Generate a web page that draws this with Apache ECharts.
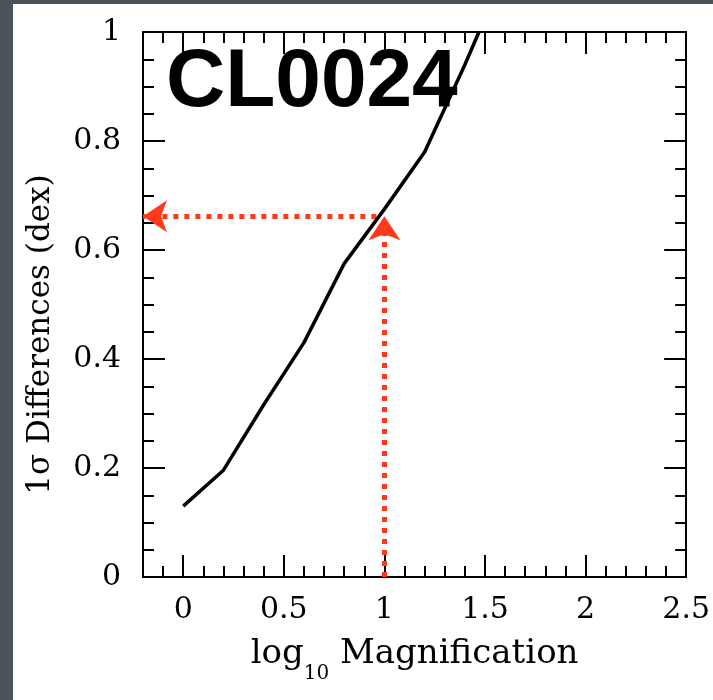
<!DOCTYPE html>
<html>
<head>
<meta charset="utf-8">
<script src="https://cdn.jsdelivr.net/npm/echarts@6/dist/echarts.min.js"></script>
<style>
  html, body { margin: 0; padding: 0; background: #4b5359; }
  #chart { width: 713px; height: 700px; }
</style>
</head>
<body>
<div id="chart"></div>
<script>
// 1-sigma differences against log10 magnification for CL0024
const magnification = [0, 0.2, 0.4, 0.6, 0.8, 1.0, 1.2, 1.4, 1.47];
const sigmaDiff     = [0.13, 0.196, 0.316, 0.43, 0.575, 0.675, 0.78, 0.94, 1.0];

// Reading guide: up from the magnification, then across to the sigma axis
const guideX = 1.0;
const guideY = 0.662;
const guideStartX = 0.96;

const xMajorTicks = [0, 0.5, 1, 1.5, 2, 2.5];
const xRange = [-0.2, 2.5];
const yRange = [0, 1];

const black = '#000';
const red = '#ff3a1a';
const serif = 'DejaVu Serif';

function xAxisPair(position) {
  const bottom = position === 'bottom';
  return [
    { // minor ticks every 0.1
      type: 'value', position, min: xRange[0], max: xRange[1], interval: 0.1,
      axisLine: { show: true, onZero: false, lineStyle: { color: black, width: 2 } },
      axisTick: { show: true, inside: true, length: 11, lineStyle: { color: black, width: 2 } },
      axisLabel: { show: false },
      splitLine: { show: false }
    },
    { // major ticks and labels
      type: 'value', position, min: xRange[0], max: xRange[1],
      axisLine: { show: true, onZero: false, lineStyle: { color: black, width: 2 } },
      axisTick: { show: true, inside: true, length: 22, customValues: xMajorTicks,
                  lineStyle: { color: black, width: 2 } },
      axisLabel: { show: bottom, customValues: xMajorTicks, margin: 18,
                   color: black, fontFamily: serif, fontSize: 30 },
      splitLine: { show: false },
      name: bottom ? '{t|log}{s|10}{t| Magnification}' : '',
      nameLocation: 'middle', nameGap: 60,
      nameTextStyle: {
        rich: {
          t: { fontFamily: serif, fontSize: 34, color: black },
          s: { fontFamily: serif, fontSize: 20, color: black, verticalAlign: 'bottom', padding: [0, 0, -13, 0] }
        }
      }
    }
  ];
}

function yAxis(position) {
  const left = position === 'left';
  return {
    type: 'value', position, min: yRange[0], max: yRange[1], interval: 0.2,
    axisLine: { show: true, onZero: false, lineStyle: { color: black, width: 2 } },
    axisTick: { show: true, inside: true, length: 22, lineStyle: { color: black, width: 2 } },
    minorTick: { show: true, splitNumber: 4, length: 11, lineStyle: { color: black, width: 2 } },
    axisLabel: { show: left, margin: 22, color: black, fontFamily: serif, fontSize: 30 },
    splitLine: { show: false },
    name: left ? '1σ Differences (dex)' : '',
    nameLocation: 'middle', nameGap: 87,
    nameTextStyle: { fontFamily: serif, fontSize: 31, color: black, padding: [0, 60, 0, 0] }
  };
}

const chart = echarts.init(document.getElementById('chart'), null, { renderer: 'canvas' });

chart.setOption({
  backgroundColor: '#4b5359',
  animation: false,
  graphic: [
    { type: 'rect', left: 13, top: 4, z: -10,
      shape: { width: 700, height: 696 }, style: { fill: '#fff' } }
  ],
  title: {
    text: 'CL0024', left: 166, top: 42, padding: 0,
    textStyle: { fontFamily: 'Liberation Sans', fontWeight: 'bold', fontSize: 82, color: black }
  },
  grid: { left: 143, right: 26, top: 32, bottom: 123 },
  xAxis: [...xAxisPair('bottom'), ...xAxisPair('top')],
  yAxis: [yAxis('left'), yAxis('right')],
  series: [
    {
      type: 'line',
      xAxisIndex: 0, yAxisIndex: 0,
      data: magnification.map((m, i) => [m, sigmaDiff[i]]),
      showSymbol: false, symbol: 'none', clip: true,
      lineStyle: { color: black, width: 3.5 },
      z: 5,
      markLine: {
        silent: true,
        symbol: ['none', 'arrow'],
        symbolSize: [24, 24],
        label: { show: false },
        lineStyle: { color: red, width: 5, type: [5, 6], cap: 'butt' },
        data: [
          [{ coord: [guideX, yRange[0]] }, { coord: [guideX, guideY] }],
          [{ coord: [guideStartX, guideY] }, { coord: [xRange[0], guideY] }]
        ]
      }
    }
  ]
});
</script>
</body>
</html>
